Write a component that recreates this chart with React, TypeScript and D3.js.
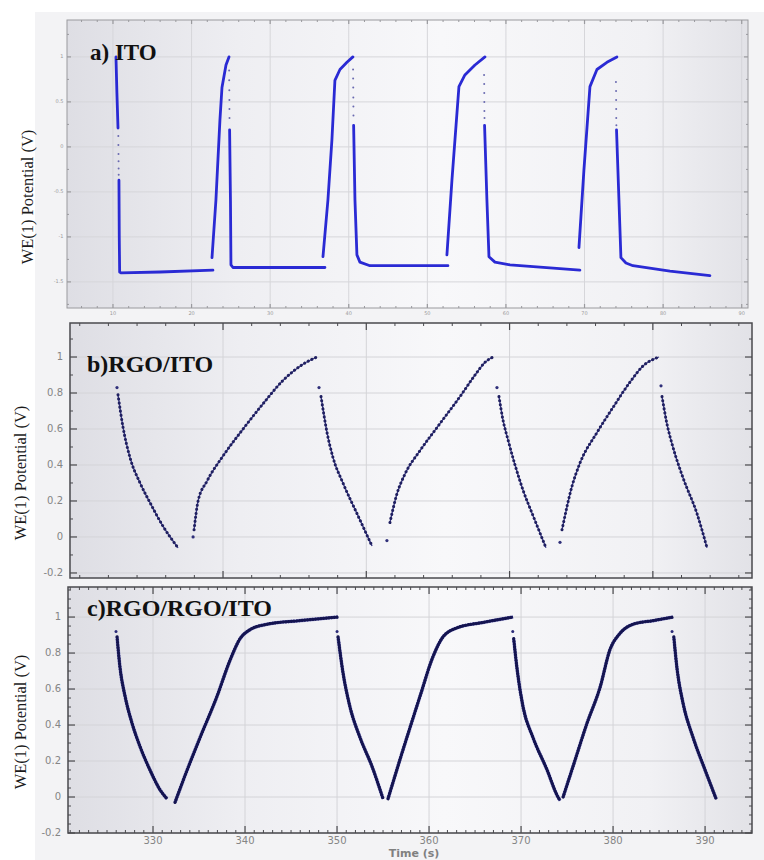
import React from 'react';
import * as d3 from 'd3';

type Pt = [number, number];

// ---------- Panel a) ITO ----------
const itoXTicks = [10, 20, 30, 40, 50, 60, 70, 80, 90];
const itoXTickLabels = ['10', '20', '30', '40', '50', '60', '70', '80', '90'];
const itoYTicks = [1, 0.5, 0, -0.5, -1, -1.5];
const itoYTickLabels = ['1', '0.5', '0', '-0.5', '-1', '-1.5'];
const itoSegments: Pt[][] = [
  [[10.38, 1.0], [10.5, 0.6], [10.64, 0.21]],
  [[10.76, -0.37], [10.8, -1.0], [10.85, -1.39], [11.02, -1.4], [16, -1.39], [22.72, -1.37]],
  [[22.6, -1.23], [23.1, -0.59], [23.61, 0.3], [23.87, 0.66], [24.38, 0.91], [24.76, 1.0]],
  [[24.84, 0.19], [24.95, -0.6], [25.01, -1.31], [25.27, -1.34], [36.97, -1.34]],
  [[36.72, -1.22], [37.35, -0.59], [37.86, 0.08], [38.24, 0.74], [38.88, 0.86], [39.77, 0.94], [40.53, 1.0]],
  [[40.62, 0.24], [40.79, -0.59], [41.04, -1.2], [41.42, -1.28], [42.7, -1.32], [52.62, -1.32]],
  [[52.49, -1.2], [53.13, -0.37], [54.02, 0.67], [54.78, 0.8], [56.06, 0.91], [57.33, 1.0]],
  [[57.28, 0.24], [57.58, -0.59], [57.84, -1.22], [58.6, -1.28], [60.51, -1.31], [69.41, -1.37]],
  [[69.29, -1.12], [69.92, -0.26], [70.69, 0.67], [71.58, 0.86], [72.85, 0.94], [74.12, 1.0]],
  [[74.07, 0.19], [74.38, -0.59], [74.63, -1.23], [75.27, -1.29], [76.16, -1.32], [80.87, -1.38], [85.95, -1.43]],
];
const itoDots: Pt[] = [
  [10.68, 0.12], [10.69, 0.02], [10.7, -0.08], [10.71, -0.16], [10.72, -0.24], [10.73, -0.31],
  [24.78, 0.85], [24.79, 0.74], [24.8, 0.63], [24.81, 0.52], [24.82, 0.42], [24.83, 0.32],
  [40.55, 0.86], [40.56, 0.76], [40.57, 0.66], [40.58, 0.55], [40.59, 0.45], [40.6, 0.35],
  [57.22, 0.8], [57.23, 0.7], [57.24, 0.6], [57.25, 0.5], [57.26, 0.4], [57.27, 0.32],
  [74.0, 0.72], [74.01, 0.62], [74.02, 0.52], [74.03, 0.42], [74.04, 0.32], [74.05, 0.24],
];

// ---------- Panel b) RGO/ITO ----------
const rgoXTicks = [20, 30, 40, 50];
const rgoYTicks = [-0.2, 0, 0.2, 0.4, 0.6, 0.8, 1];
const rgoYTickLabels = ['-0.2', '0', '0.2', '0.4', '0.6', '0.8', '1'];
const rgoSegments: Pt[][] = [
  [[12.67, 0.79], [13.02, 0.61], [13.51, 0.44], [14.21, 0.3], [14.91, 0.19], [15.81, 0.06], [16.86, -0.06]],
  [[17.98, 0.04], [18.26, 0.2], [18.88, 0.31], [20, 0.45], [21.4, 0.6], [22.79, 0.74], [24.19, 0.87], [25.58, 0.96], [26.56, 1.0]],
  [[26.84, 0.78], [27.26, 0.58], [27.68, 0.44], [28.37, 0.3], [29.35, 0.13], [30.4, -0.05]],
  [[31.65, 0.08], [32.14, 0.24], [32.7, 0.35], [33.75, 0.48], [35.14, 0.63], [36.54, 0.78], [37.59, 0.9], [38.28, 0.97], [38.84, 1.0]],
  [[39.26, 0.78], [39.54, 0.65], [39.89, 0.54], [40.38, 0.4], [40.94, 0.26], [41.63, 0.12], [42.54, -0.06]],
  [[43.66, 0.04], [44.35, 0.28], [44.91, 0.41], [46.1, 0.58], [47.22, 0.72], [48.4, 0.86], [49.31, 0.95], [50.43, 1.0]],
  [[50.64, 0.78], [50.98, 0.63], [51.4, 0.5], [52.1, 0.33], [53.08, 0.13], [53.78, -0.06]],
];
const rgoDots: Pt[] = [
  [12.6, 0.83], [17.91, 0.0], [26.7, 0.83], [31.44, -0.02], [39.12, 0.83], [43.52, -0.03], [50.57, 0.84],
];

// ---------- Panel c) RGO/RGO/ITO ----------
const rrXTicks = [330, 340, 350, 360, 370, 380, 390];
const rrXTickLabels = ['330', '340', '350', '360', '370', '380', '390'];
const rrYTicks = [-0.2, 0, 0.2, 0.4, 0.6, 0.8, 1];
const rrYTickLabels = ['-0.2', '0', '0.2', '0.4', '0.6', '0.8', '1'];
const rrSegments: Pt[][] = [
  [[326.09, 0.89], [326.41, 0.72], [326.96, 0.56], [327.72, 0.41], [328.59, 0.28], [329.67, 0.15], [330.76, 0.04], [331.52, -0.01]],
  [[332.39, -0.03], [333.26, 0.09], [335.11, 0.33], [336.96, 0.56], [338.37, 0.76], [339.46, 0.88], [340.54, 0.93], [342.39, 0.96], [345.98, 0.98], [350.11, 1.0]],
  [[350.11, 0.89], [350.65, 0.69], [351.41, 0.5], [352.5, 0.33], [353.8, 0.17], [355.0, -0.01]],
  [[355.54, -0.01], [356.85, 0.21], [359.02, 0.56], [360.43, 0.78], [361.52, 0.89], [363.04, 0.94], [365.87, 0.97], [369.13, 1.0]],
  [[369.2, 0.88], [369.57, 0.71], [370.22, 0.5], [371.3, 0.33], [372.83, 0.15], [373.91, 0.01], [374.24, -0.02]],
  [[374.57, 0.0], [375.65, 0.17], [377.17, 0.41], [378.59, 0.61], [379.67, 0.82], [380.76, 0.91], [382.17, 0.96], [384.35, 0.98], [386.52, 1.0]],
  [[386.6, 0.89], [386.96, 0.71], [387.61, 0.52], [388.7, 0.33], [390.0, 0.15], [391.2, -0.01]],
];
const rrDots: Pt[] = [[325.98, 0.92], [350.0, 0.92], [369.1, 0.92], [386.41, 0.92]];

const YTITLE = 'WE(1) Potential (V)';

type PanelProps = {
  id: string;
  x: d3.ScaleLinear<number, number>;
  y: d3.ScaleLinear<number, number>;
  xTicks: number[];
  xMinor: number[];
  yTicks: number[];
  yMinor: number[];
  yLabels: string[];
  xLabels?: string[];
  labelSize: number;
  labelColor: string;
  frameColor: string;
  frameWidth: number;
  majorLen: number;
  minorLen: number;
  gridColor: string;
  xLabelDy: number;
  children?: React.ReactNode;
};

function Panel(p: PanelProps) {
  const [l, r] = p.x.range();
  const [b, t] = p.y.range();
  return (
    <g>
      <defs>
        <linearGradient id={p.id} x1="0" x2="1" y1="0" y2="0">
          <stop offset="0" stopColor="#dedee4" />
          <stop offset="0.25" stopColor="#eeeef2" />
          <stop offset="0.55" stopColor="#f8f8fa" />
          <stop offset="0.85" stopColor="#f1f1f4" />
          <stop offset="1" stopColor="#e2e2e7" />
        </linearGradient>
      </defs>
      <rect x={l} y={t} width={r - l} height={b - t} fill={`url(#${p.id})`} />
      {p.yTicks.map((v, i) => (
        <line key={'gy' + i} x1={l} x2={r} y1={p.y(v)} y2={p.y(v)} stroke={p.gridColor} strokeWidth={1} />
      ))}
      {p.xTicks.map((v, i) => (
        <line key={'gx' + i} y1={t} y2={b} x1={p.x(v)} x2={p.x(v)} stroke={p.gridColor} strokeWidth={1} />
      ))}
      {p.children}
      <rect x={l} y={t} width={r - l} height={b - t} fill="none" stroke={p.frameColor} strokeWidth={p.frameWidth} />
      {p.yTicks.map((v, i) => (
        <g key={'ty' + i}>
          <line x1={l} x2={l + p.majorLen} y1={p.y(v)} y2={p.y(v)} stroke={p.frameColor} strokeWidth={1.2} />
          <line x1={r} x2={r - p.majorLen} y1={p.y(v)} y2={p.y(v)} stroke={p.frameColor} strokeWidth={1.2} />
        </g>
      ))}
      {p.yMinor.map((v, i) => (
        <g key={'tym' + i}>
          <line x1={l} x2={l + p.minorLen} y1={p.y(v)} y2={p.y(v)} stroke={p.frameColor} strokeWidth={1} />
          <line x1={r} x2={r - p.minorLen} y1={p.y(v)} y2={p.y(v)} stroke={p.frameColor} strokeWidth={1} />
        </g>
      ))}
      {p.xTicks.map((v, i) => (
        <g key={'tx' + i}>
          <line y1={t} y2={t + p.majorLen} x1={p.x(v)} x2={p.x(v)} stroke={p.frameColor} strokeWidth={1.2} />
          <line y1={b} y2={b - p.majorLen} x1={p.x(v)} x2={p.x(v)} stroke={p.frameColor} strokeWidth={1.2} />
        </g>
      ))}
      {p.xMinor.map((v, i) => (
        <g key={'txm' + i}>
          <line y1={t} y2={t + p.minorLen} x1={p.x(v)} x2={p.x(v)} stroke={p.frameColor} strokeWidth={1} />
          <line y1={b} y2={b - p.minorLen} x1={p.x(v)} x2={p.x(v)} stroke={p.frameColor} strokeWidth={1} />
        </g>
      ))}
      {p.yTicks.map((v, i) => (
        <text
          key={'ly' + i}
          x={l - p.labelSize * 0.7}
          y={p.y(v)}
          textAnchor="end"
          dominantBaseline="middle"
          fontFamily="DejaVu Sans, sans-serif"
          fontSize={p.labelSize}
          fill={p.labelColor}
        >
          {p.yLabels[i]}
        </text>
      ))}
      {p.xLabels &&
        p.xTicks.map((v, i) => (
          <text
            key={'lx' + i}
            x={p.x(v)}
            y={b + p.xLabelDy}
            textAnchor="middle"
            dominantBaseline="middle"
            fontFamily="DejaVu Sans, sans-serif"
            fontSize={p.labelSize}
            fill={p.labelColor}
          >
            {p.xLabels![i]}
          </text>
        ))}
    </g>
  );
}

function range(a: number, b: number, s: number, skip: number[]) {
  const out: number[] = [];
  for (let v = a; v <= b + 1e-9; v += s) {
    const r = Math.round(v * 1000) / 1000;
    if (!skip.some((k) => Math.abs(k - r) < 1e-6)) out.push(r);
  }
  return out;
}

export default function App() {
  const xA = d3.scaleLinear().domain([4.15, 90.8]).range([67, 748]);
  const yA = d3.scaleLinear().domain([-1.79, 1.41]).range([308, 20]);
  const xB = d3.scaleLinear().domain([9.32, 56.92]).range([70, 752]);
  const yB = d3.scaleLinear().domain([-0.228, 1.189]).range([578, 323]);
  const xC = d3.scaleLinear().domain([320.76, 395.1]).range([68, 752]);
  const yC = d3.scaleLinear().domain([-0.2, 1.167]).range([833, 587]);

  const lineA = d3.line<Pt>().x((d) => xA(d[0])).y((d) => yA(d[1])).curve(d3.curveLinear);
  const lineB = d3.line<Pt>().x((d) => xB(d[0])).y((d) => yB(d[1])).curve(d3.curveMonotoneX);
  const lineC = d3.line<Pt>().x((d) => xC(d[0])).y((d) => yC(d[1])).curve(d3.curveMonotoneX);

  return (
    <div style={{ position: 'absolute', left: 0, top: 0 }}>
      <svg width={764} height={860} style={{ display: 'block' }}>
        <rect x={0} y={0} width={764} height={860} fill="#ffffff" />
        <rect x={35} y={12} width={729} height={848} fill="#f3f3f5" />

        {/* Panel a */}
        <Panel
          id="bgA"
          x={xA}
          y={yA}
          xTicks={itoXTicks}
          xMinor={range(6, 90, 2, itoXTicks)}
          yTicks={itoYTicks}
          yMinor={range(-1.75, 1.25, 0.25, itoYTicks)}
          yLabels={itoYTickLabels}
          xLabels={itoXTickLabels}
          labelSize={5}
          labelColor="#9a9a9a"
          frameColor="#9a9a9e"
          frameWidth={1}
          majorLen={4}
          minorLen={2}
          gridColor="#d6d6da"
          xLabelDy={6}
        >
          {itoSegments.map((s, i) => (
            <path key={i} d={lineA(s) || ''} fill="none" stroke="#2a2ad4" strokeWidth={2.8} strokeLinejoin="round" strokeLinecap="round" />
          ))}
          {itoDots.map((d, i) => (
            <circle key={i} cx={xA(d[0])} cy={yA(d[1])} r={1} fill="#6a6ab0" />
          ))}
        </Panel>
        <text x={90} y={60} fontFamily="Liberation Serif, Times New Roman, serif" fontWeight="bold" fontSize={23} fill="#111">
          a) ITO
        </text>

        {/* Panel b */}
        <Panel
          id="bgB"
          x={xB}
          y={yB}
          xTicks={rgoXTicks}
          xMinor={range(10, 56, 2, rgoXTicks)}
          yTicks={rgoYTicks}
          yMinor={range(-0.2, 1.1, 0.1, rgoYTicks)}
          yLabels={rgoYTickLabels}
          labelSize={10}
          labelColor="#858585"
          frameColor="#4a4a4e"
          frameWidth={1.5}
          majorLen={7}
          minorLen={3}
          gridColor="#d4d4d8"
          xLabelDy={10}
        >
          {rgoSegments.map((s, i) => (
            <g key={i}>
              <path d={lineB(s) || ''} fill="none" stroke="#3a3a88" strokeWidth={1.3} />
              <path d={lineB(s) || ''} fill="none" stroke="#202060" strokeWidth={3} strokeDasharray="0.1 4" strokeLinecap="round" />
            </g>
          ))}
          {rgoDots.map((d, i) => (
            <circle key={i} cx={xB(d[0])} cy={yB(d[1])} r={1.6} fill="#30307a" />
          ))}
        </Panel>
        <text x={87} y={372} fontFamily="Liberation Serif, Times New Roman, serif" fontWeight="bold" fontSize={24} fill="#111">
          b)RGO/ITO
        </text>

        {/* Panel c */}
        <Panel
          id="bgC"
          x={xC}
          y={yC}
          xTicks={rrXTicks}
          xMinor={range(321, 395, 1, rrXTicks)}
          yTicks={rrYTicks}
          yMinor={range(-0.15, 1.15, 0.05, rrYTicks)}
          yLabels={rrYTickLabels}
          xLabels={rrXTickLabels}
          labelSize={10}
          labelColor="#858585"
          frameColor="#4a4a4e"
          frameWidth={1.5}
          majorLen={7}
          minorLen={3}
          gridColor="#d4d4d8"
          xLabelDy={8}
        >
          {rrSegments.map((s, i) => (
            <g key={i}>
              <path d={lineC(s) || ''} fill="none" stroke="#5a5ab8" strokeWidth={3.6} strokeOpacity={0.5} />
              <path d={lineC(s) || ''} fill="none" stroke="#1e1e6a" strokeWidth={2.4} />
              <path d={lineC(s) || ''} fill="none" stroke="#141450" strokeWidth={3.2} strokeDasharray="0.1 2.6" strokeLinecap="round" />
            </g>
          ))}
          {rrDots.map((d, i) => (
            <circle key={i} cx={xC(d[0])} cy={yC(d[1])} r={1.5} fill="#2a2a78" />
          ))}
        </Panel>
        <text x={87} y={616} fontFamily="Liberation Serif, Times New Roman, serif" fontWeight="bold" fontSize={24} fill="#111">
          c)RGO/RGO/ITO
        </text>
        <text x={414} y={854} textAnchor="middle" dominantBaseline="middle" fontFamily="DejaVu Sans, sans-serif" fontWeight="bold" fontSize={11} fill="#808080">
          Time (s)
        </text>

        {/* Y-axis titles */}
        {[
          [29, 197],
          [22, 473],
          [22, 722],
        ].map(([cx, cy], i) => (
          <text
            key={i}
            transform={`translate(${cx},${cy}) rotate(-90)`}
            textAnchor="middle"
            dominantBaseline="middle"
            fontFamily="Liberation Serif, Times New Roman, serif"
            fontSize={16.5}
            fill="#1a1a1a"
          >
            {YTITLE}
          </text>
        ))}
      </svg>
    </div>
  );
}
